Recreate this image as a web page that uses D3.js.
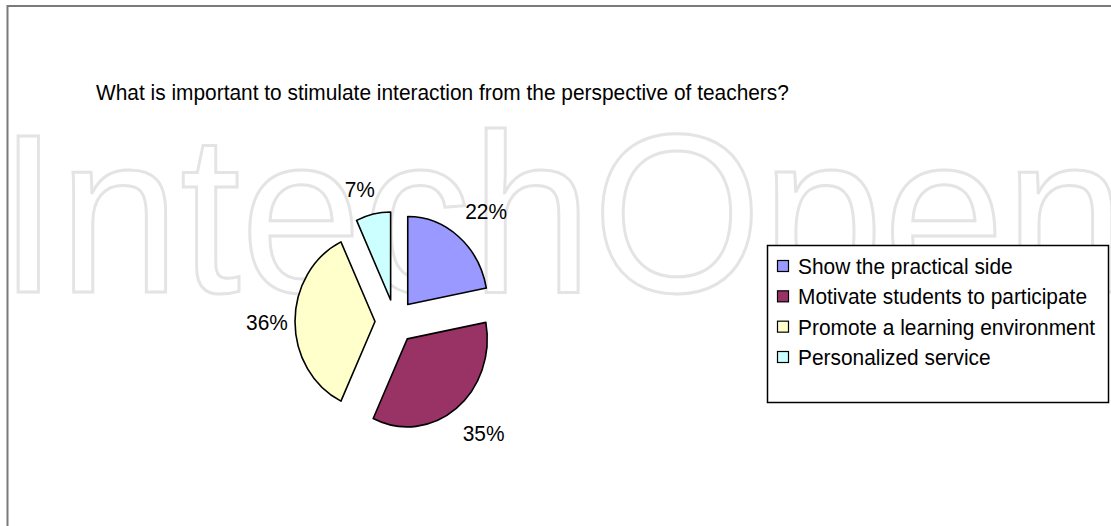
<!DOCTYPE html>
<html>
<head>
<meta charset="utf-8">
<script src="https://cdn.jsdelivr.net/npm/d3@7"></script>
<style>
  html, body { margin: 0; padding: 0; background: #fff; }
  svg { display: block; }
  text { font-family: 'Liberation Sans', Arial, Helvetica, sans-serif; fill: #000; }
</style>
</head>
<body>
<svg width="1111" height="526"></svg>
<script>
const title = 'What is important to stimulate interaction from the perspective of teachers?';
const categories = [
  'Show the practical side',
  'Motivate students to participate',
  'Promote a learning environment',
  'Personalized service'
];
const values = [22, 35, 36, 7];
const colors = ['#9999ff', '#993366', '#ffffcc', '#ccffff'];

const svg = d3.select('svg');
const width = 1111;
const height = 526;
const squeeze = 0.95; // text in the source is a bit narrow
const fontSize = 22;

// pie geometry (source picture is stretched, so pie is an ellipse)
const cx = 395;
const cy = 321.5;
const radius = 88;
const ratio = 0.909;
const explode = 22;
const labelRadius = 143;
// excel put the left labels a bit closer in
const labelNudge = [[0, 0], [1, -1], [15, 0], [-4, 7]];

// place text with horizontal squeeze
function addText(parent, str, x, y, anchor) {
  return parent.append('text')
    .attr('transform', `translate(${x},${y}) scale(${squeeze},1)`)
    .attr('text-anchor', anchor || 'start')
    .style('font-size', fontSize + 'px')
    .text(str);
}

// outer frame
svg.append('rect')
  .attr('x', 7.5)
  .attr('y', 6)
  .attr('width', width + 20)
  .attr('height', height + 20)
  .attr('fill', '#fff')
  .attr('stroke', '#7a7a7a')
  .attr('stroke-width', 2);

// watermark behind everything
svg.append('text')
  .attr('x', -2)
  .attr('y', 292)
  .attr('textLength', 1128)
  .attr('lengthAdjust', 'spacingAndGlyphs')
  .style('font-size', '226px')
  .style('fill', 'none')
  .style('stroke', '#e4e4e4')
  .style('stroke-width', 3)
  .text('IntechOpen');

addText(svg, title, 96, 100);

// pie
const total = d3.sum(values);
const pie = d3.pie().sort(null).value(d => d)(values);
const arc = d3.arc().innerRadius(0).outerRadius(radius);
const fmt = d3.format('.0%');

const pieG = svg.append('g')
  .attr('transform', `translate(${cx},${cy}) scale(${ratio},1)`);

pieG.selectAll('path')
  .data(pie)
  .join('path')
  .attr('transform', d => {
    let mid = (d.startAngle + d.endAngle) / 2;
    return `translate(${explode * Math.sin(mid)},${-explode * Math.cos(mid)})`;
  })
  .attr('d', arc)
  .attr('fill', (d, i) => colors[i])
  .attr('stroke', '#000')
  .attr('stroke-width', 1.6)
  .attr('stroke-linejoin', 'round')
  .attr('vector-effect', 'non-scaling-stroke');

// percent labels outside each slice
pie.forEach((d, i) => {
  let mid = (d.startAngle + d.endAngle) / 2;
  let x = cx + labelRadius * Math.sin(mid) + labelNudge[i][0];
  let y = cy - labelRadius * Math.cos(mid) + labelNudge[i][1];
  addText(svg, fmt(values[i] / total), x, y + 8, 'middle');
});

// legend
const legendY = d3.scalePoint().domain(categories).range([266, 357]);
const legend = svg.append('g');

legend.append('rect')
  .attr('x', 767.5)
  .attr('y', 245.5)
  .attr('width', 341)
  .attr('height', 157)
  .attr('fill', '#fff')
  .attr('stroke', '#000')
  .attr('stroke-width', 1.5);

categories.forEach((c, i) => {
  let y = legendY(c);
  legend.append('rect')
    .attr('x', 777.5)
    .attr('y', y - 5.5)
    .attr('width', 11)
    .attr('height', 11)
    .attr('fill', colors[i])
    .attr('stroke', '#000')
    .attr('stroke-width', 1.2);
  addText(legend, c, 798, y + 8);
});
</script>
</body>
</html>
